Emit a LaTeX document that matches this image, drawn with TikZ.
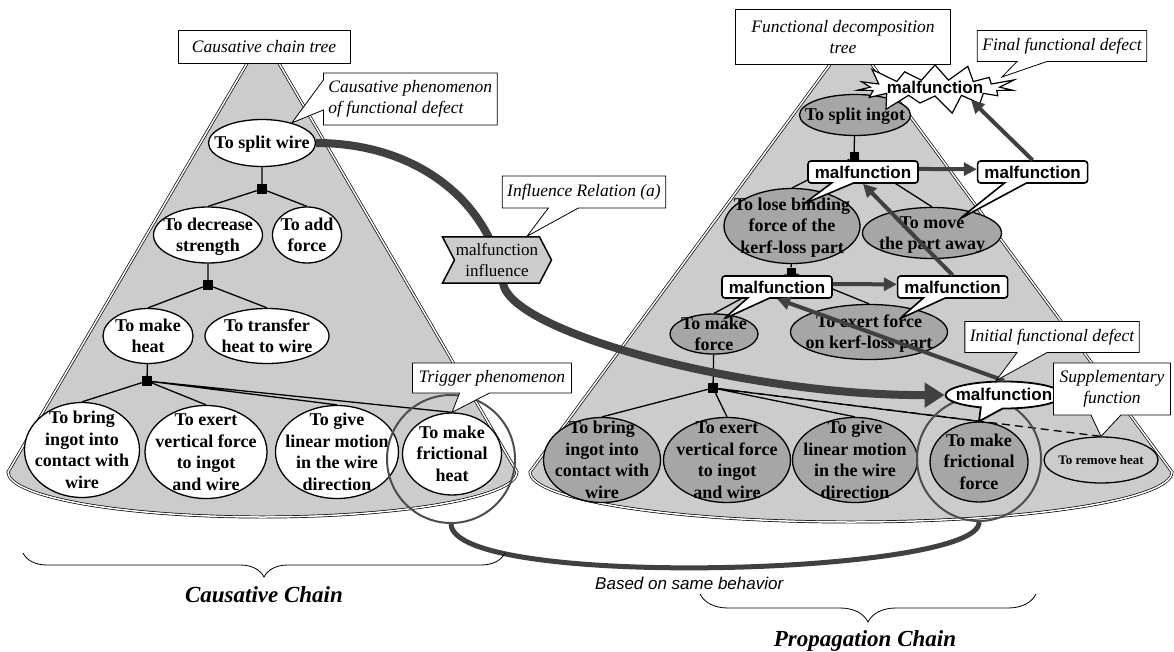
\documentclass[tikz,border=0pt]{standalone}
\usepackage{fontspec}
\setmainfont{Liberation Serif}
\newfontfamily\arialfont{Liberation Sans}
\usepackage{tikz}
\usetikzlibrary{arrows.meta,calc,positioning,backgrounds,shapes.geometric,shapes.callouts,shapes.symbols,decorations.pathreplacing}
\definecolor{ink}{HTML}{000000}
\definecolor{conegray}{HTML}{CCCCCC}
\definecolor{nodegray}{HTML}{A6A6A6}
\definecolor{flowgray}{HTML}{404040}
\definecolor{ringgray}{HTML}{4D4D4D}
\newcommand{\tight}[1]{\smash{\makebox[0pt]{\raisebox{-.33em}{\begin{tabular}{@{}c@{}}#1\end{tabular}}}}}

\begin{document}
\begin{tikzpicture}[x=1pt,y=-1pt,
  fn/.style={ellipse,draw=ink,line width=1.3pt,fill=white,inner sep=0pt,font=\fontsize{18}{21.5}\selectfont\bfseries},
  fng/.style={fn,fill=nodegray},
  junc/.style={rectangle,fill=ink,minimum size=10pt,inner sep=0pt},
  branch/.style={draw=ink,line width=1.3pt},
  cone/.style={draw=ink,fill=conegray,double=white,double distance=1.5pt,line width=.7pt},
  ring/.style={circle,draw=ringgray,line width=2pt,inner sep=0pt},
  ttl/.style={rectangle,draw=ink,fill=white,line width=.8pt,align=center,font=\fontsize{17.5}{21}\selectfont\itshape},
  lbl/.style={rectangle callout,draw=ink,fill=white,line width=.8pt,inner xsep=5pt,inner ysep=2pt,callout pointer width=30pt,font=\fontsize{17.5}{21}\selectfont\itshape},
  mf/.style={rectangle callout,draw=ink,fill=white,line width=1.6pt,rounded corners=3pt,inner xsep=2pt,inner ysep=0pt,minimum width=110pt,minimum height=22pt,callout pointer width=22pt,font=\arialfont\fontsize{17}{20}\selectfont\bfseries},
  flow/.style={draw=flowgray,line width=4pt,-{Triangle[length=13pt,width=13pt]}},
  influence/.style={draw=flowgray,line width=8pt,-{Triangle[length=20pt,width=24pt]}}]
\useasboundingbox (0,0) rectangle (1174,652);

% causative chain tree
\node[fn,minimum width=107pt,minimum height=47pt] (sw) at (262,143) {\tight{To split wire}};
\node[junc] (j1) at (262,189) {};
\node[fn,minimum width=109pt,minimum height=56pt] (ds) at (208,235) {\tight{To decrease\\strength}};
\node[fn,minimum width=69pt,minimum height=56pt] (af) at (307,235) {\tight{To add\\force}};
\node[junc] (j2) at (208,285) {};
\node[fn,minimum width=90pt,minimum height=55pt] (mh) at (148,336) {\tight{To make\\heat}};
\node[fn,minimum width=124pt,minimum height=55pt] (th) at (267,336) {\tight{To transfer\\heat to wire}};
\node[junc] (j3) at (147,381) {};
\node[fn,minimum width=115pt,minimum height=95pt] (bi) at (82,450) {\tight{To bring\\ingot into\\contact with\\wire}};
\node[fn,minimum width=122pt,minimum height=93pt] (ev) at (206,452) {\tight{To exert\\vertical force\\to ingot\\and wire}};
\node[fn,minimum width=123pt,minimum height=93pt] (gl) at (337,452) {\tight{To give\\linear motion\\in the wire\\direction}};
\node[fn,minimum width=99pt,minimum height=82pt] (fh) at (452,454) {\tight{To make\\frictional\\heat}};
\node[ring,minimum size=128pt] (trig) at (451,459) {};

% functional decomposition tree
\node[fng,minimum width=111pt,minimum height=41pt] (si) at (855,115) {\tight{To split ingot}};
\node[junc,minimum size=9pt] (k1) at (854,157) {};
\node[fng,minimum width=136pt,minimum height=75pt] (lb) at (792,226) {\tight{To lose binding\\force of the\\kerf-loss part}};
\node[fng,minimum width=139pt,minimum height=51pt] (mp) at (932,233) {\tight{To move\\the part away}};
\node[junc,minimum size=9pt] (k2) at (791,272) {};
\node[fng,minimum width=88pt,minimum height=40pt] (mk) at (714,334) {\tight{To make\\force}};
\node[fng,minimum width=157pt,minimum height=55pt] (ek) at (869,332) {\tight{To exert force\\on kerf-loss part}};
\node[junc] (k3) at (713,388) {};
\node[fng,minimum width=117pt,minimum height=85pt] (rb) at (602,460) {\tight{To bring\\ingot into\\contact with\\wire}};
\node[fng,minimum width=127pt,minimum height=85pt] (rv) at (727,460) {\tight{To exert\\vertical force\\to ingot\\and wire}};
\node[fng,minimum width=125pt,minimum height=85pt] (rg) at (855,460) {\tight{To give\\linear motion\\in the wire\\direction}};
\node[fng,minimum width=98pt,minimum height=80pt] (ff) at (979,462) {\tight{To make\\frictional\\force}};
\node[fng,minimum width=114pt,minimum height=46pt,fill=conegray,font=\fontsize{13}{15}\selectfont\bfseries] (rh) at (1101,460) {\tight{To remove heat}};
\node[ring,minimum size=124pt] (same) at (979,459) {};

\begin{pgfonlayer}{background}
\path[cone] (263,36) -- (8,472) arc[start angle=180,end angle=360,x radius=254.5pt,y radius=45pt] -- cycle;
\path[cone] (851,36) -- (530,472) arc[start angle=180,end angle=360,x radius=321pt,y radius=50pt] -- cycle;
\draw[branch] (sw) -- (j1) (j1) -- (ds.north) (j1) -- (af.north);
\draw[branch] (ds) -- (j2) (j2) -- (mh.north) (j2) -- (th.north);
\draw[branch] (mh) -- (j3) (j3) -- (bi.north) (j3) -- (ev.north) (j3) -- (gl.north) (j3) -- (fh.north);
\draw[branch] (si) -- (k1) (k1) -- (lb.north) (k1) -- (mp.north);
\draw[branch] (lb) -- (k2) (k2) -- (mk.north) (k2) -- (ek.north);
\draw[branch] (mk) -- (k3) (k3) -- (rb.north) (k3) -- (rv.north) (k3) -- (rg.north) (k3) -- (ff.north);
\draw[branch,dashed,dash pattern=on 8pt off 5pt] (k3) -- (rh.north);
\end{pgfonlayer}

% malfunctions
\node[mf,callout relative pointer={(-39,21)}] (m1) at (863,172) {malfunction};
\node[mf,right=58pt of m1,callout relative pointer={(-56,36)}] (m2) {malfunction};
\node[mf,callout relative pointer={(-35,21)}] (m3) at (777,287) {malfunction};
\node[mf,right=64pt of m3,callout relative pointer={(-35,21)}] (m4) {malfunction};
\node[ellipse callout,draw=ink,fill=white,line width=1.8pt,minimum width=117pt,minimum height=27pt,inner sep=0pt,callout absolute pointer={(ff.north)},callout pointer arc=22,font=\arialfont\fontsize{17}{20}\selectfont\bfseries] (mi) at (1004,395) {\tight{malfunction}};
\node[starburst,draw=ink,fill=white,line width=1.2pt,starburst points=15,starburst point height=21pt,minimum width=172pt,minimum height=58pt,inner sep=0pt,font=\arialfont\fontsize{17}{20}\selectfont\bfseries] (fd) at (935,88) {\tight{malfunction}};

\draw[flow] (m1) -- (m2);
\draw[flow] (m3) -- (m4);
\draw[flow] (m2.north) -- ($(fd.center)+(36,12)$);
\draw[flow] (m4.north) -- (m1.south);
\draw[flow] (mi.north) -- (m3.south);

% influence between the trees
\coordinate (bend) at (503,283);
\draw[influence] (sw.east) .. controls (420,143) and (492,205) .. (bend) .. controls (510,333) and (750,396) .. (mi.west);
\node[signal,signal from=west,signal to=east,signal pointer angle=125,draw=ink,fill=conegray,line width=1.5pt,minimum width=109pt,minimum height=46pt,inner sep=1pt,align=center,font=\fontsize{17}{20.5}\selectfont] (mfi) at (497,260) {malfunction\\influence};
\draw[draw=flowgray,line width=5pt] (trig.south) .. controls (453,590) and (982,575) .. (same.south);

% labels
\node[ttl,minimum width=172pt,minimum height=33pt] (ct) at (264,47) {Causative chain tree};
\node[ttl,minimum width=215pt,minimum height=55pt] (ft) at (843,37) {Functional decomposition\\tree};
\node[lbl,anchor=west,align=left,minimum height=52pt,callout absolute pointer={(sw.34)}] (cp) at (323,99) {Causative phenomenon\\of functional defect};
\node[lbl,minimum width=159pt,minimum height=30pt,callout absolute pointer={(fh.north)}] (tp) at (492,378) {Trigger phenomenon};
\node[lbl,minimum height=32pt,callout absolute pointer={($(mfi.north)+(30,0)$)}] (ir) at (584,192) {Influence Relation (a)};
\node[lbl,minimum height=31pt,callout absolute pointer={($(fd.center)+(67,-11)$)}] (fdl) at (1062,46) {Final functional defect};
\node[lbl,minimum height=31pt,callout absolute pointer={($(mi.north)+(-8,0)$)}] (ifd) at (1052,337) {Initial functional defect};
\node[lbl,align=center,minimum width=117pt,minimum height=52pt,callout absolute pointer={(rh.north)}] (sup) at (1112,389) {Supplementary\\function};

% chains
\draw[decorate,decoration={brace,mirror,amplitude=24pt},line width=.8pt] (23,553) -- (505,553);
\draw[decorate,decoration={brace,mirror,amplitude=28pt},line width=.8pt] (700,594) -- (1036,594);
\node[anchor=base,font=\fontsize{23}{26}\selectfont\bfseries\itshape] (cc) at (264,602) {Causative Chain};
\node[anchor=base,font=\fontsize{23}{26}\selectfont\bfseries\itshape] (pc) at (865,646) {Propagation Chain};
\node[anchor=base west,inner sep=0pt,font=\arialfont\fontsize{17}{20}\selectfont\itshape] (bsb) at (595,589) {Based on same behavior};
\end{tikzpicture}
\end{document}
